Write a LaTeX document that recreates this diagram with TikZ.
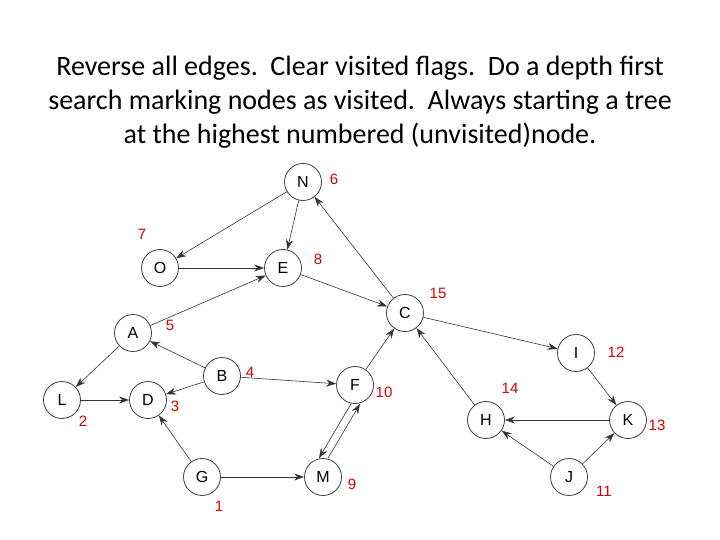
\documentclass[tikz,border=0pt]{standalone}
\usepackage{fontspec}
\setmainfont{Carlito}
\newfontfamily\nodefont{Liberation Sans}
\usetikzlibrary{arrows.meta}
\begin{document}
\begin{tikzpicture}[x=1pt,y=-1pt,
  vert/.style={circle,draw=black!75,thick,minimum size=37pt,inner sep=0pt,font=\nodefont\fontsize{16}{16}\selectfont,fill=white},
  num/.style={text=red!85!black,font=\nodefont\fontsize{15}{15}\selectfont},
  edge/.style={draw=black!80,semithick,-{Stealth[length=10pt,width=7pt]}}]
\useasboundingbox (0,0) rectangle (720,540);
\node[align=center,font=\fontsize{28}{34}\selectfont] (title) at (360,102) {Reverse all edges.\ \ Clear visited flags.\ \ Do a depth first\\search marking nodes as visited.\ \ Always starting a tree\\at the highest numbered (unvisited)node.};
\node[vert] (N) at (303,182) {N};
\node[vert] (O) at (160,268) {O};
\node[vert] (E) at (283,268) {E};
\node[vert] (C) at (405,313) {C};
\node[vert] (A) at (133,333) {A};
\node[vert] (B) at (222,376) {B};
\node[vert] (F) at (355,385) {F};
\node[vert] (I) at (576,353) {I};
\node[vert] (L) at (62,400) {L};
\node[vert] (D) at (148,400) {D};
\node[vert] (H) at (486,420) {H};
\node[vert] (K) at (628,420) {K};
\node[vert] (G) at (202,477) {G};
\node[vert] (M) at (323,477) {M};
\node[vert] (J) at (569,477) {J};
\node[num] (n6) at (334,179) {6};
\node[num] (n7) at (142,234) {7};
\node[num] (n8) at (318,259) {8};
\node[num] (n15) at (438,293) {15};
\node[num] (n5) at (170,325) {5};
\node[num] (n4) at (250,372) {4};
\node[num] (n10) at (384,392) {10};
\node[num] (n12) at (616,352) {12};
\node[num] (n14) at (510,388) {14};
\node[num] (n13) at (657,425) {13};
\node[num] (n2) at (83,421) {2};
\node[num] (n3) at (175,406) {3};
\node[num] (n1) at (219,506) {1};
\node[num] (n9) at (352,484) {9};
\node[num] (n11) at (604,491) {11};
\draw[edge] (N) -- (O);
\draw[edge] (N) -- (E);
\draw[edge] (O) -- (E);
\draw[edge] (E) -- (C);
\draw[edge] (C) -- (N);
\draw[edge] (C) -- (I);
\draw[edge] (I) -- (K);
\draw[edge] (K) -- (H);
\draw[edge] (J) -- (H);
\draw[edge] (J) -- (K);
\draw[edge] (H) -- (C);
\draw[edge] (F) -- (C);
\draw[edge] (B) -- (F);
\draw[edge] (B) -- (A);
\draw[edge] (A) -- (E);
\draw[edge] (A) -- (L);
\draw[edge] (L) -- (D);
\draw[edge] (B) -- (D);
\draw[edge] (G) -- (D);
\draw[edge] (G) -- (M);
\draw[edge] ([xshift=-4pt]F.south) -- ([xshift=-4pt]M.north);
\draw[edge] ([xshift=5pt]M.north) -- ([xshift=5pt]F.south);
\end{tikzpicture}
\end{document}
